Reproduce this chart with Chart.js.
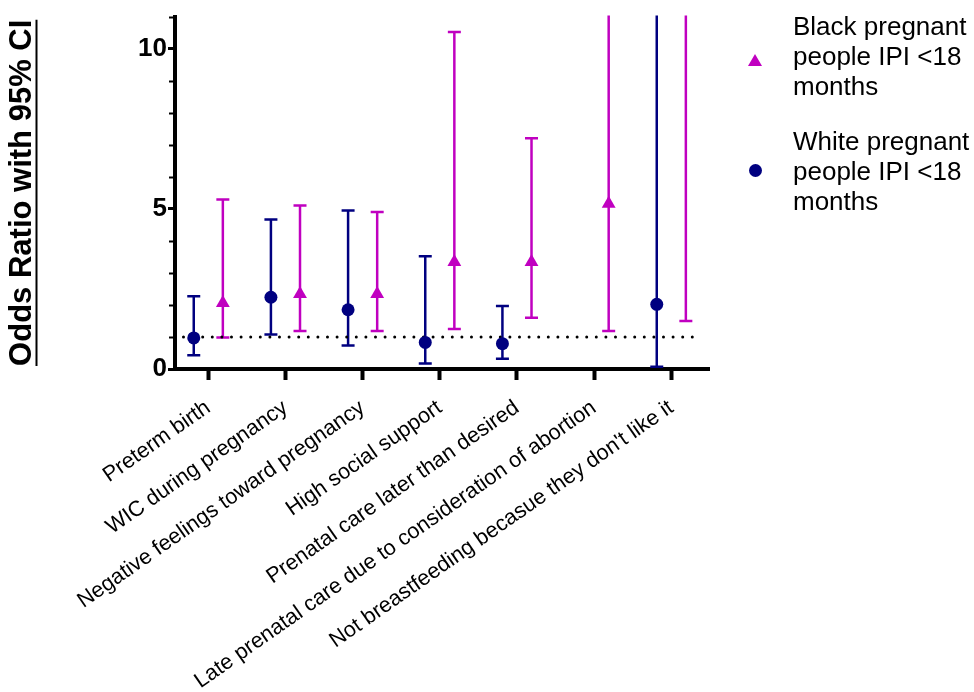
<!DOCTYPE html>
<html>
<head>
<meta charset="utf-8">
<script src="https://cdn.jsdelivr.net/npm/chart.js@4"></script>
<style>
  body { margin: 0; background: #fff; }
  #wrap { position: relative; width: 974px; height: 692px; }
  .leg { position: absolute; left: 793px; font: 26px "Liberation Sans", Arial, sans-serif; line-height: 30px; color: #000; white-space: nowrap; }
  .tri { position: absolute; width: 0; height: 0; border-left: 7px solid transparent; border-right: 7px solid transparent; border-bottom: 12px solid #c000c0; }
  .dot { position: absolute; width: 13px; height: 13px; border-radius: 50%; background: #000080; }
</style>
</head>
<body>
<div id="wrap">
  <canvas id="myChart" width="974" height="692"></canvas>
  <div class="tri" style="left:748px; top:54px;"></div>
  <div class="leg" style="top:11px;">Black pregnant<br>people IPI &lt;18<br>months</div>
  <div class="dot" style="left:749px; top:164px;"></div>
  <div class="leg" style="top:126px;">White pregnant<br>people IPI &lt;18<br>months</div>
</div>
<script>
// categories on the x axis
const categories = [
  'Preterm birth',
  'WIC during pregnancy',
  'Negative feelings toward pregnancy',
  'High social support',
  'Prenatal care later than desired',
  'Late prenatal care due to consideration of abortion',
  "Not breastfeeding becasue they don't like it"
];

// Black pregnant people IPI <18 months (odds ratio, 95% CI)
const blackOR   = [2.06, 2.34, 2.34, 3.34, 3.34, 5.16, 14];
const blackLow  = [0.98, 1.19, 1.19, 1.25, 1.60, 1.19, 1.50];
const blackHigh = [5.29, 5.10, 4.90, 10.52, 7.20, 25, 60];

// White pregnant people IPI <18 months
const whiteOR   = [0.97, 2.24, 1.85, 0.83, 0.79, null, 2.02];
const whiteLow  = [0.43, 1.08, 0.73, 0.17, 0.32, null, 0.07];
const whiteHigh = [2.27, 4.67, 4.95, 3.52, 1.97, null, 30];

// reference line OR = 1
const refX = [-0.32, 6.35];
const refY = [1, 1];

const yTicks = [0, 5, 10];

const NAVY = '#000080';
const MAGENTA = '#c000c0';
const FONT = "'Liberation Sans', Arial, sans-serif";
const WHITE_OFF = -0.187;
const BLACK_OFF = 0.19;

const pts = (vals, off) => vals.map((v, i) => v == null ? null : { x: i + off, y: v }).filter(p => p);

// whiskers + caps, drawn with the chart scales
const errorBars = {
  id: 'errorBars',
  beforeDatasetsDraw(chart) {
    const { ctx, chartArea: a, scales: { x, y } } = chart;
    ctx.save();
    ctx.beginPath();
    ctx.rect(a.left, a.top - 1, a.right - a.left, a.bottom - a.top + 1);
    ctx.clip();
    const draw = (low, high, off, color) => {
      ctx.strokeStyle = color;
      ctx.lineWidth = 2.5;
      low.forEach((lo, i) => {
        if (lo == null) return;
        const px = x.getPixelForValue(i + off);
        const pl = y.getPixelForValue(lo);
        const ph = y.getPixelForValue(Math.min(high[i], y.max + 1));
        ctx.beginPath();
        ctx.moveTo(px, pl); ctx.lineTo(px, ph);
        if (lo >= y.min) { ctx.moveTo(px - 6.5, pl); ctx.lineTo(px + 6.5, pl); }
        if (high[i] <= y.max) { ctx.moveTo(px - 6.5, ph); ctx.lineTo(px + 6.5, ph); }
        ctx.stroke();
      });
    };
    draw(whiteLow, whiteHigh, WHITE_OFF, NAVY);
    draw(blackLow, blackHigh, BLACK_OFF, MAGENTA);
    ctx.restore();
  },
  afterDraw(chart) {
    const { ctx, chartArea: a, scales: { y } } = chart;
    ctx.save();
    // minor ticks on y
    ctx.strokeStyle = '#000';
    ctx.lineWidth = 2;
    for (let v = 1; v <= y.max; v++) {
      if (v % 5 === 0) continue;
      const py = Math.round(y.getPixelForValue(v)) + 0.5;
      ctx.beginPath(); ctx.moveTo(a.left - 6, py); ctx.lineTo(a.left - 1, py); ctx.stroke();
    }
    // underline for the y title
    ctx.font = 'bold 31px ' + FONT;
    const w = ctx.measureText(y.options.title.text).width;
    const cy = (a.top + a.bottom) / 2;
    ctx.lineWidth = 2;
    ctx.beginPath(); ctx.moveTo(36.5, cy - w / 2); ctx.lineTo(36.5, cy + w / 2); ctx.stroke();
    ctx.restore();
  }
};

const ctx = document.getElementById('myChart').getContext('2d');
const mychart = new Chart(ctx, {
  type: 'scatter',
  data: {
    datasets: [
      {
        label: 'Black pregnant people IPI <18 months',
        data: pts(blackOR, BLACK_OFF),
        pointStyle: 'triangle',
        pointRadius: 8,
        backgroundColor: MAGENTA,
        borderColor: MAGENTA,
        borderWidth: 0
      },
      {
        label: 'White pregnant people IPI <18 months',
        data: pts(whiteOR, WHITE_OFF),
        pointStyle: 'circle',
        pointRadius: 6.5,
        backgroundColor: NAVY,
        borderColor: NAVY,
        borderWidth: 0
      },
      {
        label: 'OR = 1',
        type: 'line',
        data: refX.map((v, i) => ({ x: v, y: refY[i] })),
        showLine: true,
        pointRadius: 0,
        borderColor: '#000',
        borderWidth: 3,
        borderDash: [0, 9.6],
        borderCapStyle: 'round'
      }
    ]
  },
  options: {
    responsive: false,
    animation: false,
    layout: { padding: { top: 14, right: 265, left: 0, bottom: 0 } },
    plugins: { legend: { display: false }, tooltip: { enabled: false } },
    scales: {
      x: {
        type: 'linear',
        min: -0.43,
        max: 6.49,
        afterBuildTicks: s => { s.ticks = categories.map((c, i) => ({ value: i })); },
        afterFit: s => { s.height = 323; },
        ticks: {
          autoSkip: false,
          minRotation: 35,
          maxRotation: 35,
          padding: 15,
          color: '#000',
          font: { family: FONT, size: 21.7 },
          callback: v => categories[v]
        },
        grid: { drawOnChartArea: false, tickLength: 11, tickWidth: 4, tickColor: '#000' },
        border: { display: true, width: 4, color: '#000' }
      },
      y: {
        min: 0,
        max: 11,
        afterBuildTicks: s => { s.ticks = yTicks.map(v => ({ value: v })); },
        afterFit: s => { s.width = 175; },
        ticks: {
          padding: 1,
          color: '#000',
          font: { family: FONT, size: 26, weight: 'bold' }
        },
        grid: { drawOnChartArea: false, tickLength: 7, tickWidth: 3, tickColor: '#000' },
        border: { display: true, width: 4, color: '#000' },
        title: {
          display: true,
          text: 'Odds Ratio with 95% CI',
          color: '#000',
          padding: { top: 4, bottom: 0 },
          font: { family: FONT, size: 31, weight: 'bold' }
        }
      }
    }
  },
  plugins: [errorBars]
});
</script>
</body>
</html>
